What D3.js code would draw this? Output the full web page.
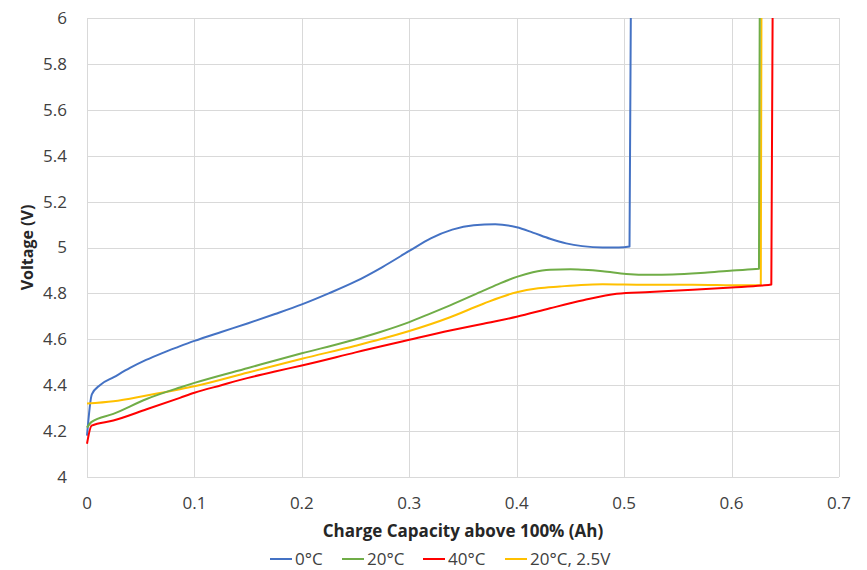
<!DOCTYPE html>
<html>
<head>
<meta charset="utf-8">
<script src="https://cdn.jsdelivr.net/npm/d3@7"></script>
<style>
  body { margin: 0; background: #fff; }
  text { font-family: "Open Sans", sans-serif; }
</style>
</head>
<body>
<script>
// charge capacity (Ah) / voltage (V) readings for each run
var cap0  = [0, 0.0045, 0.012, 0.025, 0.04, 0.055, 0.07, 0.085, 0.1, 0.125, 0.15, 0.175, 0.2, 0.225, 0.25,
             0.275, 0.3, 0.32, 0.34, 0.36, 0.38, 0.4, 0.415, 0.431, 0.446, 0.461, 0.48, 0.495, 0.505, 0.5062];
var volt0 = [4.18, 4.36, 4.40, 4.435, 4.475, 4.51, 4.54, 4.567, 4.593, 4.632, 4.670, 4.71, 4.752, 4.80, 4.852,
             4.915, 4.985, 5.04, 5.078, 5.097, 5.101, 5.088, 5.065, 5.038, 5.018, 5.006, 5.0, 5.0, 5.004, 6.0];

var cap20  = [0, 0.0043, 0.0245, 0.0555, 0.0865, 0.1, 0.15, 0.2, 0.24, 0.273, 0.3, 0.32, 0.338, 0.369,
              0.385, 0.4, 0.415, 0.431, 0.45, 0.462, 0.48, 0.502, 0.525, 0.545, 0.575, 0.601, 0.6255, 0.6262];
var volt20 = [4.215, 4.24, 4.275, 4.34, 4.39, 4.41, 4.475, 4.539, 4.587, 4.632, 4.675, 4.713, 4.748, 4.812,
              4.845, 4.872, 4.892, 4.903, 4.905, 4.903, 4.897, 4.885, 4.881, 4.882, 4.89, 4.9, 4.907, 6.0];

var cap40  = [0, 0.0043, 0.0245, 0.0555, 0.0865, 0.1, 0.125, 0.15, 0.175, 0.2, 0.25, 0.273, 0.3, 0.338, 0.369, 0.4,
              0.431, 0.462, 0.493, 0.524, 0.564, 0.6, 0.628, 0.637, 0.6382];
var volt40 = [4.145, 4.224, 4.246, 4.295, 4.345, 4.367, 4.40, 4.432, 4.46, 4.486, 4.543, 4.569, 4.598, 4.638, 4.668, 4.698,
              4.735, 4.77, 4.798, 4.806, 4.816, 4.826, 4.834, 4.839, 6.0];

var cap25  = [0, 0.0245, 0.0555, 0.0865, 0.1, 0.15, 0.2, 0.25, 0.273, 0.3, 0.338, 0.369, 0.4, 0.42,
              0.44, 0.46, 0.48, 0.52, 0.564, 0.6, 0.6272, 0.6278];
var volt25 = [4.32, 4.33, 4.355, 4.382, 4.395, 4.455, 4.515, 4.572, 4.6, 4.636, 4.696, 4.755, 4.805, 4.822,
              4.83, 4.837, 4.84, 4.838, 4.838, 4.836, 4.835, 6.0];

var seriesNames = ["0°C", "20°C", "40°C", "20°C, 2.5V"];
var seriesColors = ["#4472c4", "#70ad47", "#ff0000", "#ffc000"];
var xTicks = [0, 0.1, 0.2, 0.3, 0.4, 0.5, 0.6, 0.7];
var yTicks = [4, 4.2, 4.4, 4.6, 4.8, 5, 5.2, 5.4, 5.6, 5.8, 6];

// draw order: yellow sits between green and red, red over yellow at the end
var series = [
    {name: seriesNames[0], color: seriesColors[0], x: cap0, y: volt0},
    {name: seriesNames[3], color: seriesColors[3], x: cap25, y: volt25},
    {name: seriesNames[1], color: seriesColors[1], x: cap20, y: volt20},
    {name: seriesNames[2], color: seriesColors[2], x: cap40, y: volt40}
];

// set up canvas
var margin = {top: 18, right: 28, bottom: 93, left: 87},
    width = 867 - margin.left - margin.right,
    height = 570 - margin.top - margin.bottom;

var x = d3.scaleLinear().domain([0, 0.7]).range([0, width]),
    y = d3.scaleLinear().domain([4, 6]).range([height, 0]);

var svg = d3.select("body")
    .append("svg")
    .attr("width", 867)
    .attr("height", 570);

var g = svg.append("g")
    .attr("transform", "translate(" + margin.left + "," + margin.top + ")");

// gridlines
g.append("g").selectAll("line")
    .data(yTicks)
    .enter().append("line")
    .attr("x1", 0).attr("x2", width)
    .attr("y1", function(d) { return Math.round(y(d)) + 0.5; })
    .attr("y2", function(d) { return Math.round(y(d)) + 0.5; })
    .attr("stroke", "#d9d9d9");

g.append("g").selectAll("line")
    .data(xTicks)
    .enter().append("line")
    .attr("y1", 0).attr("y2", height)
    .attr("x1", function(d) { return Math.round(x(d)) + 0.5; })
    .attr("x2", function(d) { return Math.round(x(d)) + 0.5; })
    .attr("stroke", "#d9d9d9");

// tick labels
g.append("g").selectAll("text")
    .data(xTicks)
    .enter().append("text")
    .attr("x", function(d) { return x(d); })
    .attr("y", height + 26)
    .attr("dy", "0.35em")
    .attr("text-anchor", "middle")
    .attr("font-size", 17)
    .attr("fill", "#404040")
    .text(function(d) { return d; });

g.append("g").selectAll("text")
    .data(yTicks)
    .enter().append("text")
    .attr("x", -20)
    .attr("y", function(d) { return y(d); })
    .attr("dy", "0.35em")
    .attr("text-anchor", "end")
    .attr("font-size", 17)
    .attr("fill", "#404040")
    .text(function(d) { return d; });

// axis titles
g.append("text")
    .attr("x", width / 2)
    .attr("y", height + 54)
    .attr("dy", "0.35em")
    .attr("text-anchor", "middle")
    .attr("font-size", 17)
    .attr("font-weight", "bold")
    .attr("fill", "#262626")
    .text("Charge Capacity above 100% (Ah)");

g.append("text")
    .attr("transform", "translate(" + (27 - margin.left) + "," + (height / 2) + ") rotate(-90)")
    .attr("dy", "0.35em")
    .attr("text-anchor", "middle")
    .attr("font-size", 16)
    .attr("font-weight", "bold")
    .attr("fill", "#262626")
    .text("Voltage (V)");

// lines
var line = d3.line()
    .x(function(d) { return x(d[0]); })
    .y(function(d) { return y(d[1]); })
    .curve(d3.curveMonotoneX);

g.selectAll(".series")
    .data(series)
    .enter().append("path")
    .attr("class", "series")
    .attr("fill", "none")
    .attr("stroke", function(d) { return d.color; })
    .attr("stroke-width", 2)
    .attr("stroke-linejoin", "round")
    .attr("d", function(d) { return line(d3.zip(d.x, d.y)); });

// legend
var legendX = [270, 342, 423, 505];
var legend = svg.append("g").selectAll("g")
    .data(seriesNames)
    .enter().append("g")
    .attr("transform", function(d, i) { return "translate(" + legendX[i] + ",559)"; });

legend.append("line")
    .attr("x1", 0).attr("x2", 22)
    .attr("stroke", function(d, i) { return seriesColors[i]; })
    .attr("stroke-width", 2);

legend.append("text")
    .attr("x", 25)
    .attr("dy", "0.35em")
    .attr("font-size", 17)
    .attr("fill", "#404040")
    .text(function(d) { return d; });
</script>
</body>
</html>
